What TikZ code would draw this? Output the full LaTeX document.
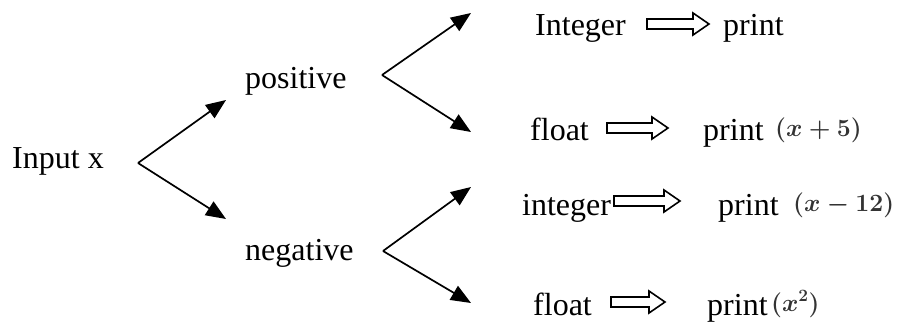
\documentclass[tikz,border=0pt]{standalone}
\usepackage{fontspec}
\setmainfont{Liberation Serif}
\usetikzlibrary{arrows.meta}
\begin{document}
\begin{tikzpicture}[x=1pt,y=-1pt,
  lbl/.style={inner sep=0pt, anchor=base west, font=\fontsize{32}{38}\selectfont},
  expr/.style={inner sep=0pt, anchor=base west, text=black!80,
    font=\fontsize{26}{31}\selectfont\boldmath},
  branch/.style={line width=1.7pt, -{Triangle[length=20pt,width=16pt]}},
  implies/.style={draw, line width=1.6pt, line join=miter, fill=white}]
\useasboundingbox (0,0) rectangle (897,325);

% labels
\node[lbl] (in)  at (12,168)  {Input x};
\node[lbl] (pos) at (245,88)  {positive};
\node[lbl] (neg) at (245,260) {negative};

\node[lbl] (t1) at (535,35)  {Integer};
\node[lbl] (p1) at (723,35)  {print};
\node[lbl] (t2) at (530,140) {float};
\node[lbl] (p2) at (703,140) {print};
\node[expr] (e2) at (775,136) {$(x+5)$};
\node[lbl] (t3) at (522,215) {integer};
\node[lbl] (p3) at (718,215) {print};
\node[expr] (e3) at (793,211) {$(x-12)$};
\node[lbl] (t4) at (533,315) {float};
\node[lbl] (p4) at (707,315) {print};
\node[expr] (e4) at (771,311) {$(x^2)$};

% fork points and arrow ends
\coordinate (f0) at (138,163);
\coordinate (f1) at (382,75);
\coordinate (f2) at (383,251);
\coordinate (a1) at (226,100);
\coordinate (a2) at (226,219);
\coordinate (b1) at (471,13);
\coordinate (b2) at (471,132);
\coordinate (c1) at (471,187);
\coordinate (c2) at (471,303);

\draw[branch] (f0) -- (a1);
\draw[branch] (f0) -- (a2);
\draw[branch] (f1) -- (b1);
\draw[branch] (f1) -- (b2);
\draw[branch] (f2) -- (c1);
\draw[branch] (f2) -- (c2);

% hollow implication arrows between the type and the action
\foreach \x/\y/\l in {647/24/62, 607/128/61, 614/201/66, 611/302/54}{
  \draw[implies] (\x,\y-5) -- ++(\l-16,0) -- ++(0,-6) -- ++(16,11)
     -- ++(-16,11) -- ++(0,-6) -- (\x,\y+5) -- cycle;
}
\end{tikzpicture}
\end{document}
